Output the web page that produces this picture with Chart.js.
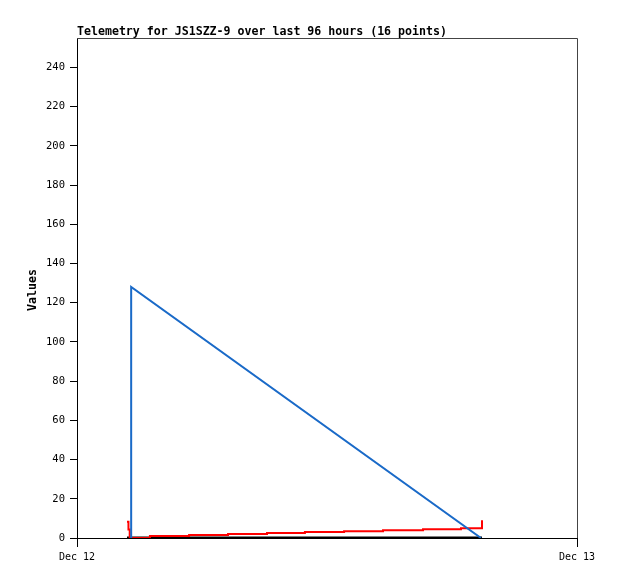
<!DOCTYPE html>
<html>
<head>
<meta charset="utf-8">
<script src="https://cdn.jsdelivr.net/npm/chart.js@4"></script>
<style>
  html, body { margin: 0; padding: 0; background: #fff; }
  canvas { display: block; }
</style>
</head>
<body>
<canvas id="telemetry-chart" width="618" height="579"></canvas>
<script>
// hours after Dec 12 00:00
const titleText = 'Telemetry for JS1SZZ-9 over last 96 hours (16 points)'
const axisTitle = 'Values'
const dayLabels = ['Dec 12', 'Dec 13']
const dayHours = [0, 24]
const yTicks = [0, 20, 40, 60, 80, 100, 120, 140, 160, 180, 200, 220, 240]

const blueHours = [2.60, 2.60, 19.39]
const blueValues = [0, 128, 0]

const redHours = [2.40, 2.47, 2.53, 3.50, 5.38, 7.25, 9.12, 10.94, 12.82, 14.69, 16.61, 18.43, 19.44]
const redValues = [8.3, 4.3, 0, 1, 1.5, 2, 2.5, 3, 3.5, 4, 4.5, 5, 9]

const blackHours = [2.40, 19.44]
const blackValues = [0, 0]

const mono = '"DejaVu Sans Mono", "Liberation Mono", monospace'

function toPoints(xs, ys) {
    return xs.map((x, i) => ({ x: x, y: ys[i] }))
}

const framePlugin = {
    id: 'frame',
    afterDraw(chart) {
        const ctx = chart.ctx
        const a = chart.chartArea
        ctx.save()
        ctx.strokeStyle = '#444'
        ctx.lineWidth = 1
        ctx.beginPath()
        ctx.moveTo(a.left, a.top + 0.5)
        ctx.lineTo(a.right + 0.5, a.top + 0.5)
        ctx.lineTo(a.right + 0.5, a.bottom)
        ctx.stroke()

        ctx.fillStyle = '#000'
        ctx.font = 'bold 11.6px ' + mono
        ctx.textBaseline = 'alphabetic'
        ctx.textAlign = 'left'
        ctx.fillText(titleText, a.left, 35)

        ctx.translate(36, (a.top + a.bottom) / 2 + 2)
        ctx.rotate(-Math.PI / 2)
        ctx.textAlign = 'center'
        ctx.fillText(axisTitle, 0, 0)
        ctx.restore()
    }
}

const ctx = document.getElementById('telemetry-chart')
const myChart = new Chart(ctx, {
    type: 'line',
    data: {
        datasets: [{
            label: 'zero',
            data: toPoints(blackHours, blackValues),
            borderColor: '#000',
            borderWidth: 3,
            pointRadius: 0,
            order: 3
        }, {
            label: 'red',
            data: toPoints(redHours, redValues),
            borderColor: '#ff0000',
            borderWidth: 2,
            pointRadius: 0,
            stepped: 'before',
            order: 2
        }, {
            label: 'blue',
            data: toPoints(blueHours, blueValues),
            borderColor: '#1a6ac8',
            borderWidth: 2,
            pointRadius: 0,
            order: 1
        }]
    },
    options: {
        responsive: false,
        animation: false,
        layout: {
            padding: { left: 0, top: 38, right: 41, bottom: 0 }
        },
        scales: {
            x: {
                type: 'linear',
                min: dayHours[0],
                max: dayHours[1],
                afterBuildTicks(scale) {
                    scale.ticks = dayHours.map(v => ({ value: v }))
                },
                afterFit(scale) {
                    scale.height = 41
                },
                ticks: {
                    autoSkip: false,
                    maxRotation: 0,
                    padding: 4,
                    color: '#000',
                    font: { family: mono, size: 10 },
                    callback: (value) => dayLabels[dayHours.indexOf(value)]
                },
                grid: {
                    drawOnChartArea: false,
                    tickLength: 9,
                    color: '#000'
                },
                border: { color: '#000', width: 1 }
            },
            y: {
                min: 0,
                max: 255,
                afterBuildTicks(scale) {
                    scale.ticks = yTicks.map(v => ({ value: v }))
                },
                afterFit(scale) {
                    scale.width = 77
                },
                ticks: {
                    padding: 5,
                    color: '#000',
                    font: { family: mono, size: 10.5 }
                },
                grid: {
                    drawOnChartArea: false,
                    tickLength: 7,
                    color: '#000'
                },
                border: { color: '#000', width: 1 }
            }
        },
        plugins: {
            legend: { display: false },
            tooltip: { enabled: false },
            title: { display: false }
        }
    },
    plugins: [framePlugin]
});
</script>
</body>
</html>
